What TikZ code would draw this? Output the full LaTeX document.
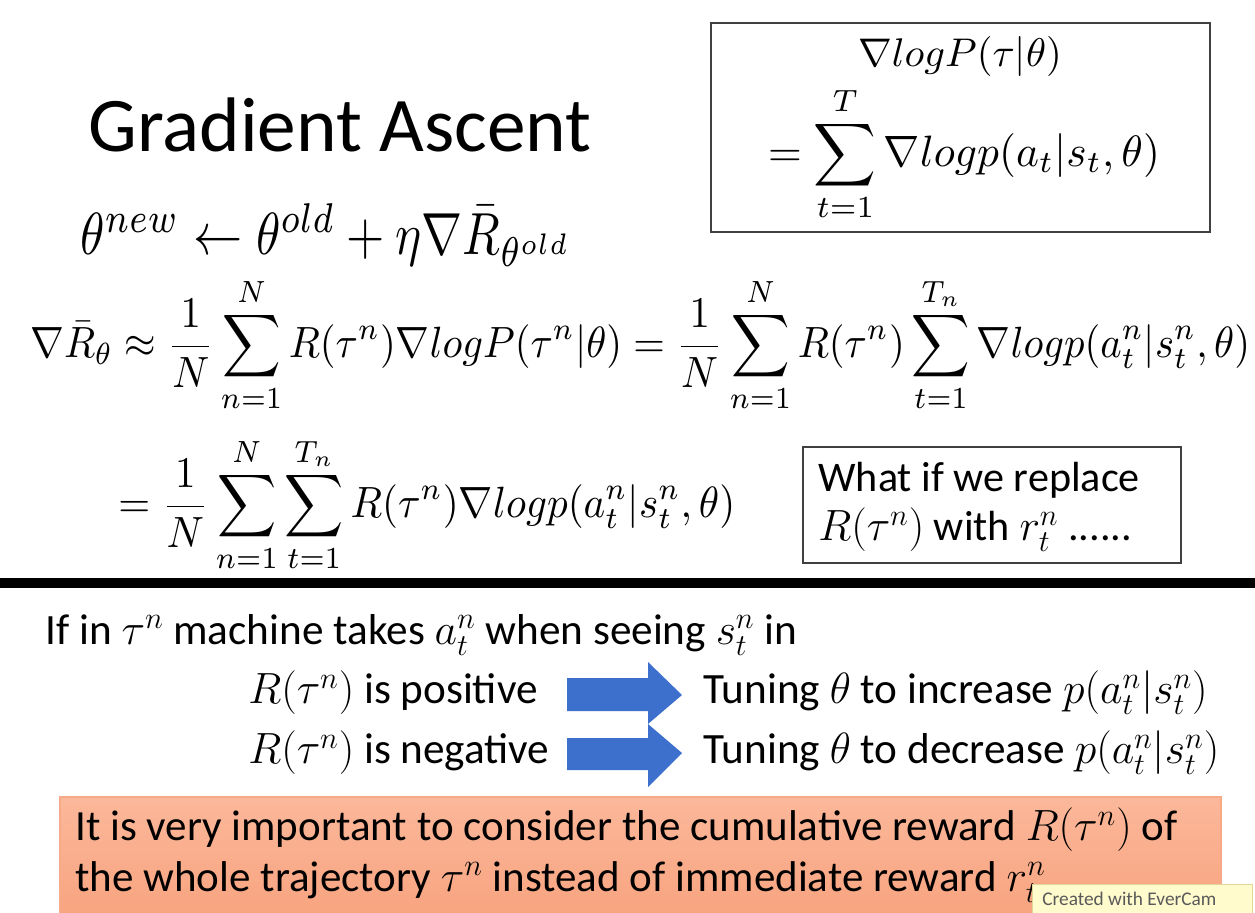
\documentclass[tikz,border=0pt]{standalone}
\usepackage{amsmath}
\usepackage{fontspec}
\setmainfont{Carlito}
\definecolor{arrowblue}{RGB}{60,112,204}
\definecolor{salmonA}{RGB}{251,184,154}
\definecolor{salmonB}{RGB}{248,164,128}
\definecolor{salmonEdge}{RGB}{246,170,135}
\definecolor{wmfill}{RGB}{255,251,205}
\definecolor{wmedge}{RGB}{225,215,150}
\tikzset{
  txt/.style={inner sep=0pt, font=\fontsize{24.6}{29}\selectfont},
  eq/.style={inner sep=0pt},
  frame/.style={draw=black!75, line width=1pt},
  bluearrow/.style={fill=arrowblue, draw=none},
}
\begin{document}
\begin{tikzpicture}[x=0.02cm,y=-0.02cm]
\useasboundingbox (0,0) rectangle (1255,913);
\fill[white] (0,0) rectangle (1255,913);

% title
\node[inner sep=0pt, font=\fontsize{44}{50}\selectfont] (title) at (340,125) {Gradient Ascent};

% top right box
\draw[frame] (711,23) rectangle (1210,232);
\node[eq] (boxA) at (960,57) {\resizebox*{4.08cm}{0.8cm}{$\nabla logP(\tau|\theta)$}};
\node[eq] (boxB) at (964,154) {\resizebox*{7.84cm}{2.72cm}{$\displaystyle =\sum_{t=1}^{T}\nabla logp(a_t|s_t,\theta)$}};

% update rule
\node[eq, anchor=west] (upd) at (80,235) {\resizebox*{9.84cm}{1.25cm}{$\theta^{new}\leftarrow\theta^{old}+\eta\nabla\bar{R}_{\theta^{old}}$}};

% line 2
\node[eq, anchor=west] (l2) at (30,345) {\resizebox*{24.4cm}{2.72cm}{$\displaystyle \nabla\bar{R}_\theta\approx\frac{1}{N}\sum_{n=1}^{N}R(\tau^n)\nabla logP(\tau^n|\theta)=\frac{1}{N}\sum_{n=1}^{N}R(\tau^n)\sum_{t=1}^{T_n}\nabla logp(a_t^n|s_t^n,\theta)$}};

% line 3
\node[eq, anchor=west] (l3) at (118,505) {\resizebox*{12.34cm}{2.72cm}{$\displaystyle =\frac{1}{N}\sum_{n=1}^{N}\sum_{t=1}^{T_n}R(\tau^n)\nabla logp(a_t^n|s_t^n,\theta)$}};

% what-if box
\draw[frame] (803,447) rectangle (1181,563);
\node[txt, anchor=west, font=\fontsize{24}{28}\selectfont] (w1) at (818,480) {What if we replace};
\node[txt, anchor=west, font=\fontsize{24}{28}\selectfont] (w2) at (818,530) {$R(\tau^n)$ with $r_t^n$ ......};

% separator
\draw[line width=6pt] (0,583) -- (1255,583);

% lower part
\node[txt, anchor=west] (if) at (45,635) {If in $\tau^n$ machine takes $a_t^n$ when seeing $s_t^n$ in};
\node[txt, anchor=west] (pos) at (248,693) {$R(\tau^n)$ is positive};
\node[txt, anchor=west] (neg) at (248,753) {$R(\tau^n)$ is negative};

\fill[bluearrow] (567,678) -- (648,678) -- (648,662) -- (682,695) -- (648,724) -- (648,711) -- (567,711) -- cycle;
\fill[bluearrow] (567,738) -- (648,738) -- (648,724) -- (682,753) -- (648,787) -- (648,770) -- (567,770) -- cycle;

\node[txt, anchor=west] (inc) at (703,693) {Tuning $\theta$ to increase $p(a_t^n|s_t^n)$};
\node[txt, anchor=west] (dec) at (703,753) {Tuning $\theta$ to decrease $p(a_t^n|s_t^n)$};

% orange box
\shade[top color=salmonA, bottom color=salmonB] (60,797) rectangle (1221,913);
\draw[salmonEdge, line width=0.8pt] (60,913) -- (60,797) -- (1221,797) -- (1221,913);
\node[txt, anchor=west, font=\fontsize{24.5}{29}\selectfont] (imp1) at (75,830) {It is very important to consider the cumulative reward $R(\tau^n)$ of};
\node[txt, anchor=west, font=\fontsize{24.5}{29}\selectfont] (imp2) at (75,882) {the whole trajectory $\tau^n$ instead of immediate reward $r_t^n$};

% watermark
\filldraw[fill=wmfill, draw=wmedge] (1032,884) rectangle (1252,913);
\node[inner sep=0pt, anchor=west, font=\fontsize{11}{13}\selectfont, text=black!65] (wm) at (1042,899) {Created with EverCam};
\end{tikzpicture}
\end{document}
